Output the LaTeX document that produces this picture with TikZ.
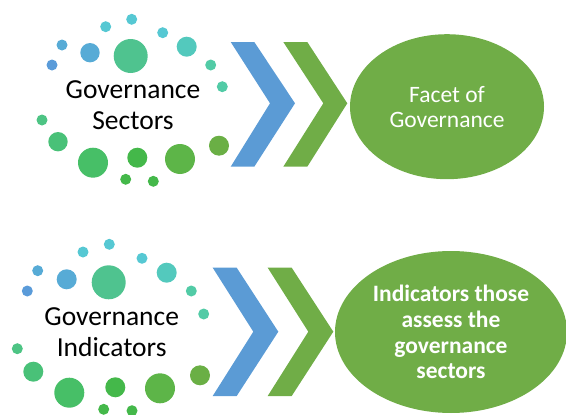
\documentclass[tikz,border=0pt]{standalone}
\usepackage{fontspec}
\setmainfont{Carlito}
\usetikzlibrary{shapes.geometric}
\definecolor{chevblue}{HTML}{5B9BD5}
\definecolor{chevgreen}{HTML}{70AD47}
\definecolor{dotA}{HTML}{5A9BD9}
\definecolor{dotB}{HTML}{57ABD6}
\definecolor{dotC}{HTML}{56C8D3}
\definecolor{dotD}{HTML}{53C9BD}
\definecolor{dotE}{HTML}{52CBA6}
\definecolor{dotF}{HTML}{4FC38F}
\definecolor{dotG}{HTML}{4DC484}
\definecolor{dotH}{HTML}{49C178}
\definecolor{dotI}{HTML}{47BF67}
\definecolor{dotJ}{HTML}{44B84A}
\definecolor{dotK}{HTML}{5DB548}
\definecolor{dotL}{HTML}{6AAF45}
\begin{document}
\begin{tikzpicture}[x=1pt,y=-1pt,
    ringtext/.style={align=center,font=\fontsize{27.5}{30.5}\selectfont},
    facet/.style={ellipse,fill=chevgreen,text=white,align=center,inner sep=0pt}]
    \useasboundingbox (0,0) rectangle (566,415);
    % Dot rings
    \foreach \x/\y/\r/\c in {131.7/19.3/5.5/dotC, 105.7/26.7/5.5/dotC, 162.7/32.7/5.5/dotC,
        62/45/5.5/dotB, 90/52.7/9.7/dotB, 130.7/56/17/dotF, 186.7/46.7/10/dotD,
        52/65/5.5/dotA, 210.7/65/5.5/dotE, 222.3/86.7/5.5/dotE, 42/120/5.5/dotG,
        58/141.7/9.7/dotH, 93/162.7/15/dotI, 137.3/157.7/10/dotJ, 180/159/15/dotK,
        219/145.7/10/dotL, 125.7/179.3/5.5/dotJ, 153.3/181.3/5.5/dotJ}
      \fill[\c] (\x,\y) circle (\r);
    \foreach \x/\y/\r/\c in {109.3/244.3/5.5/dotC, 83/252/5.5/dotC, 142/258.3/5.5/dotC,
        37.7/270.7/5.5/dotB, 66.7/279.3/10/dotB, 108.7/282.3/17/dotF, 166.7/272.7/10/dotD,
        27.3/291/5.5/dotA, 191.3/291/5.5/dotE, 203.7/314/5.5/dotE, 17.3/348.7/5.5/dotG,
        33.3/371.7/10/dotH, 69.3/392.7/15/dotI, 115.3/387.3/10/dotJ, 160/388.3/15/dotK,
        200/375.3/10/dotL, 103.7/409.3/5.5/dotJ, 132/410.7/5.5/dotJ}
      \fill[\c] (\x,\y) circle (\r);
    % Labels
    \node[ringtext] (sectors) at (133,105) {Governance\\Sectors};
    \node[ringtext] (indicators) at (111.7,332) {Governance\\Indicators};
    % Chevrons
    \fill[chevblue] (230.7,42) -- (254.3,42) -- (295,103.3) -- (254.3,166.7) -- (230.7,166.7) -- (270,103.3) -- cycle;
    \fill[chevgreen] (283.3,42) -- (307.3,42) -- (347.3,103.3) -- (307.3,166.7) -- (283.3,166.7) -- (323.3,103.3) -- cycle;
    \fill[chevblue] (212.7,267.7) -- (236.7,267.7) -- (278.3,331.7) -- (236.7,396) -- (212.7,396) -- (253.3,331.7) -- cycle;
    \fill[chevgreen] (267.7,267.7) -- (291.7,267.7) -- (333.3,331.7) -- (291.7,396) -- (267.7,396) -- (308.3,331.7) -- cycle;
    % Ellipses
    \node[facet,minimum width=194pt,minimum height=145pt,font=\fontsize{23.5}{25}\selectfont] (facet) at (447,106.7) {Facet of\\Governance};
    \node[facet,minimum width=232pt,minimum height=162pt,font=\fontsize{23.5}{25.8}\selectfont\bfseries] (assess) at (451,332) {Indicators those\\assess the\\governance\\sectors};
  \end{tikzpicture}
\end{document}
